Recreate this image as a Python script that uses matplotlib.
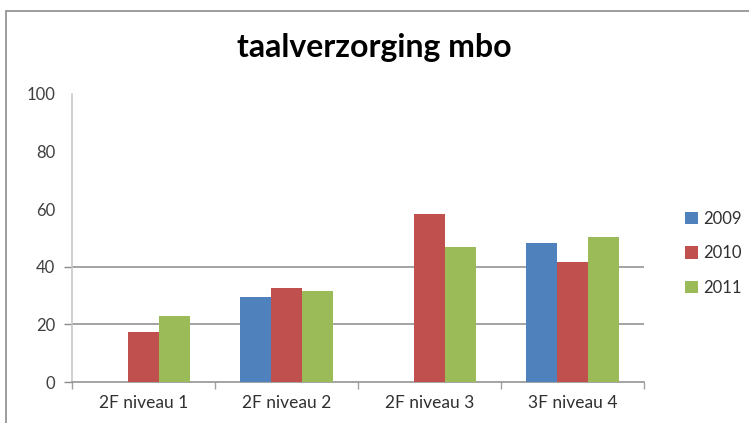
import numpy as np
import matplotlib
matplotlib.use("Agg")
import matplotlib.pyplot as plt
from matplotlib.patches import Rectangle

categories = ["2F niveau 1", "2F niveau 2", "2F niveau 3", "3F niveau 4"]
series = ["2009", "2010", "2011"]
v2009 = [np.nan, 29.6, np.nan, 48.1]
v2010 = [17.4, 32.8, 58.3, 41.5]
v2011 = [22.9, 31.5, 47.0, 50.2]
yticks = [0, 20, 40, 60, 80, 100]
colors = ["#4F81BD", "#C0504D", "#9BBB59"]

W, H = 749, 423
fig = plt.figure(figsize=(W / 100, H / 100), dpi=100)
fig.patch.set_facecolor("white")

# outer chart frame (partially cropped)
fig.add_artist(Rectangle((6 / W, -0.1), 1.2, 1 - 11 / H + 0.1,
                         transform=fig.transFigure, fill=False,
                         edgecolor="#8c8c8c", linewidth=1.2))

ax = fig.add_axes([72 / W, 1 - 382 / H, (644 - 72) / W, (382 - 94) / H])
x = np.arange(len(categories))
bw = 0.217
for i, (vals, c, lab) in enumerate(zip([v2009, v2010, v2011], colors, series)):
    ax.bar(x + (i - 1) * bw, vals, width=bw, color=c, label=lab, zorder=3)

ax.set_xlim(-0.5, len(categories) - 0.5)
ax.set_ylim(0, 100)
for g in [20, 40]:
    ax.axhline(g, color="#8a8a8a", linewidth=1.1, zorder=1)

ax.set_yticks(yticks)
ax.set_yticklabels([str(t) for t in yticks], fontfamily="Lato", fontsize=12,
                   color="#404040")
ax.tick_params(axis="y", length=6, color="#8a8a8a", width=1, pad=6)
for t in ax.yaxis.get_major_ticks()[3:]:
    t.tick1line.set_visible(False)

ax.set_xticks(np.arange(-0.5, len(categories), 1.0), minor=False)
ax.set_xticklabels([])
ax.set_xticks(x, minor=True)
ax.set_xticklabels(categories, minor=True, fontfamily="Lato", fontsize=12.5,
                   color="#303030")
ax.tick_params(axis="x", which="major", length=5, color="#a0a0a0", width=1)
ax.tick_params(axis="x", which="minor", length=0, pad=9)

for s in ["top", "right"]:
    ax.spines[s].set_visible(False)
ax.spines["left"].set_color("#c8c8c8")
ax.spines["left"].set_linewidth(1.2)
ax.spines["bottom"].set_color("#8a8a8a")
ax.spines["bottom"].set_linewidth(1.1)

fig.text(374 / W, 1 - 47 / H, "taalverzorging mbo", ha="center", va="center",
         fontfamily="Lato", fontweight="bold", fontsize=23, color="black")

leg = fig.legend(loc="upper left", bbox_to_anchor=(670 / W, 1 - 196 / H),
                 frameon=False, prop={"family": "Lato", "size": 12},
                 handlelength=0.75, handleheight=0.75, handletextpad=0.35,
                 labelspacing=1.1)
for t in leg.get_texts():
    t.set_color("#303030")

fig.savefig("out.png", dpi=100)
